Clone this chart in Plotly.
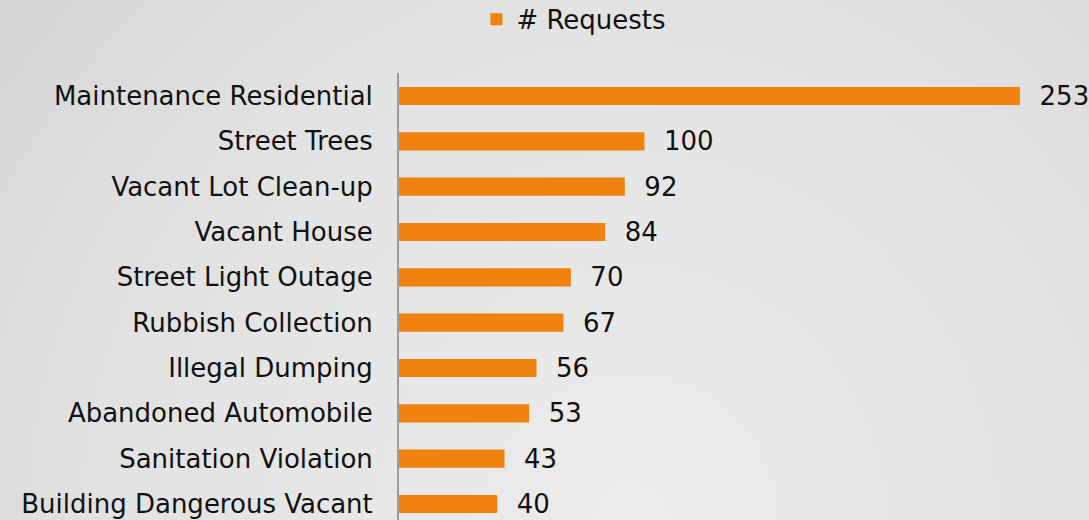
import base64
import plotly.graph_objects as go

categories = [
    "Maintenance Residential",
    "Street Trees",
    "Vacant Lot Clean-up",
    "Vacant House",
    "Street Light Outage",
    "Rubbish Collection",
    "Illegal Dumping",
    "Abandoned Automobile",
    "Sanitation Violation",
    "Building Dangerous Vacant",
]
requests = [253, 100, 92, 84, 70, 67, 56, 53, 43, 40]
series_name = "# Requests"

W, H = 1089, 520
FONT = "Verdana, DejaVu Sans, sans-serif"

svg = f'''<svg xmlns="http://www.w3.org/2000/svg" width="{W}" height="{H}">
<defs><radialGradient id="g" cx="0.58" cy="1.0" r="0.95" gradientUnits="objectBoundingBox" gradientTransform="translate(0.58,1) scale(1,2.1) translate(-0.58,-1)">
<stop offset="0" stop-color="#ececec"/><stop offset="0.5" stop-color="#e2e2e2"/><stop offset="1" stop-color="#cdcdcd"/></radialGradient></defs>
<rect width="{W}" height="{H}" fill="url(#g)"/></svg>'''
bg = "data:image/svg+xml;base64," + base64.b64encode(svg.encode()).decode()

fig = go.Figure()
fig.add_trace(go.Bar(
    x=requests,
    y=categories,
    orientation="h",
    name=series_name,
    marker=dict(color="#F0820D", line=dict(width=0)),
    width=0.4,
    text=requests,
    texttemplate="\u00a0\u00a0%{x}",
    textposition="outside",
    constraintext="none",
    textfont=dict(family=FONT, size=26, color="#111111"),
    cliponaxis=False,
    showlegend=True,
))

fig.update_layout(
    width=W,
    height=H,
    margin=dict(l=399, r=0, t=73, b=0),
    paper_bgcolor="#dedede",
    plot_bgcolor="rgba(0,0,0,0)",
    font=dict(family=FONT, size=26, color="#111111"),
    images=[dict(source=bg, xref="paper", yref="paper", x=-399/690, y=1 + 73/447,
                 sizex=W/690, sizey=H/447, xanchor="left", yanchor="top",
                 sizing="stretch", layer="below")],
    showlegend=True,
    legend=dict(
        orientation="h",
        xref="container", yref="container",
        x=0.527, y=0.963, xanchor="center", yanchor="middle",
        font=dict(family=FONT, size=26, color="#111111"),
        bgcolor="rgba(0,0,0,0)",
        itemwidth=30,
    ),
    xaxis=dict(
        range=[0, 281.1],
        visible=False,
        showgrid=False,
        zeroline=False,
    ),
    yaxis=dict(
        categoryorder="array",
        categoryarray=categories,
        range=[9.353, -0.507],
        showgrid=False,
        zeroline=False,
        showline=True,
        linecolor="#9c9c9c",
        linewidth=2,
        ticks="",
        ticklabelstandoff=19,
        tickfont=dict(family=FONT, size=26, color="#111111"),
    ),
)

fig.write_html(
    "out.html",
    config={"displayModeBar": False},
    post_script="document.body.style.margin='0';document.body.style.padding='0';",
)
